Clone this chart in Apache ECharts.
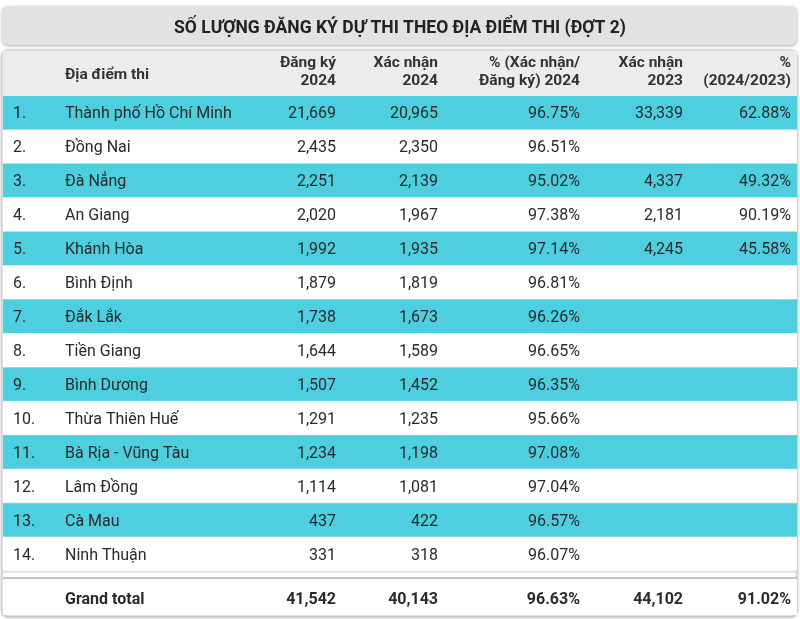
<!DOCTYPE html>
<html>
<head>
<meta charset="utf-8">
<script src="https://cdn.jsdelivr.net/npm/echarts@6/dist/echarts.min.js"></script>
<style>html,body{margin:0;padding:0;background:#fff;}#c{width:800px;height:619px;}</style>
</head>
<body>
<div id="c"></div>
<script>
const titleText = 'SỐ LƯỢNG ĐĂNG KÝ DỰ THI THEO ĐỊA ĐIỂM THI (ĐỢT 2)';
const headers = ['', 'Địa điểm thi', 'Đăng ký\n2024', 'Xác nhận\n2024', '% (Xác nhận/\nĐăng ký) 2024', 'Xác nhận\n2023', '%\n(2024/2023)'];
const places = ['Thành phố Hồ Chí Minh', 'Đồng Nai', 'Đà Nẳng', 'An Giang', 'Khánh Hòa', 'Bình Định', 'Đắk Lắk', 'Tiền Giang', 'Bình Dương', 'Thừa Thiên Huế', 'Bà Rịa - Vũng Tàu', 'Lâm Đồng', 'Cà Mau', 'Ninh Thuận'];
const dangKy2024 = [21669, 2435, 2251, 2020, 1992, 1879, 1738, 1644, 1507, 1291, 1234, 1114, 437, 331];
const xacNhan2024 = [20965, 2350, 2139, 1967, 1935, 1819, 1673, 1589, 1452, 1235, 1198, 1081, 422, 318];
const pctXacNhan2024 = [96.75, 96.51, 95.02, 97.38, 97.14, 96.81, 96.26, 96.65, 96.35, 95.66, 97.08, 97.04, 96.57, 96.07];
const xacNhan2023 = [33339, null, 4337, 2181, 4245, null, null, null, null, null, null, null, null, null];
const pct2024vs2023 = [62.88, null, 49.32, 90.19, 45.58, null, null, null, null, null, null, null, null, null];
const totalLabel = 'Grand total';
const totals = [41542, 40143, 96.63, 44102, 91.02];

const fmtN = v => v == null ? '' : v.toLocaleString('en-US');
const fmtP = v => v == null ? '' : v.toFixed(2) + '%';

const bodyRows = places.map((p, i) => [i, (i + 1) + '.', p, fmtN(dangKy2024[i]), fmtN(xacNhan2024[i]), fmtP(pctXacNhan2024[i]), fmtN(xacNhan2023[i]), fmtP(pct2024vs2023[i])]);
const totalRows = [[0, '', totalLabel, fmtN(totals[0]), fmtN(totals[1]), fmtP(totals[2]), fmtN(totals[3]), fmtP(totals[4])]];
const headerRows = [[0].concat(headers)];

const FONT = 'Roboto, "Noto Sans", sans-serif';
const colX = [13, 65, 336, 438, 580, 683, 791];
const colAlign = ['left', 'left', 'right', 'right', 'right', 'right', 'right'];
const CYAN = '#4ecfe0';

function makeRender(kind) {
  return function (params, api) {
    const i = api.value(1);
    const c = api.coord([0, i]);
    const h = api.size([0, 1])[1];
    const top = c[1] - h / 2;
    const x0 = api.coord([3, i])[0];
    const x1 = api.coord([797, i])[0];
    const children = [];
    let fill = '#ffffff';
    if (kind === 'body' && i % 2 === 0) fill = CYAN;
    if (kind === 'header') fill = '#ececec';
    children.push({ type: 'rect', shape: { x: x0, y: top, width: x1 - x0, height: h }, style: { fill: fill } });
    if (kind === 'body') {
      children.push({ type: 'line', shape: { x1: x0, y1: top + h, x2: x1, y2: top + h }, style: { stroke: '#dfe6e8', lineWidth: 1 } });
    }
    const row = params.dataIndex;
    const src = kind === 'header' ? headerRows : (kind === 'total' ? totalRows : bodyRows);
    const vals = src[row];
    for (let k = 0; k < 7; k++) {
      const t = vals[k + 1];
      if (!t) continue;
      const x = api.coord([colX[k], i])[0];
      if (kind === 'header') {
        const lines = t.split('\n');
        children.push({ type: 'text', style: { text: t, x: x, y: lines.length > 1 ? c[1] - 1 : c[1] + 2, align: colAlign[k], verticalAlign: 'middle', font: 'bold 15.5px ' + FONT, fill: '#333', lineHeight: 18 } });
      } else {
        children.push({ type: 'text', style: { text: t, x: x, y: c[1] + (kind === 'total' ? 2.5 : 1.5), align: colAlign[k], verticalAlign: 'middle', font: (kind === 'total' ? 'bold ' : '') + '16px ' + FONT, fill: '#2a2a2a' } });
      }
    }
    return { type: 'group', children: children };
  };
}

const chart = echarts.init(document.getElementById('c'), null, { renderer: 'canvas' });
const xAx = (g) => ({ type: 'value', gridIndex: g, min: 0, max: 800, show: false });
const yAx = (g, n) => ({ type: 'category', gridIndex: g, data: Array.from({ length: n }, (_, k) => 'r' + k), inverse: true, show: false });

chart.setOption({
  animation: false,
  backgroundColor: '#ffffff',
  title: {
    text: titleText, left: 'center', top: 15,
    textStyle: { fontFamily: FONT, fontWeight: 'bold', fontSize: 17.5, color: '#222' }
  },
  graphic: [
    { type: 'rect', z: -10, shape: { x: 2, y: 6, width: 795, height: 39, r: 6 }, style: { fill: '#e2e2e2', shadowBlur: 3, shadowOffsetY: 1, shadowColor: 'rgba(0,0,0,0.35)' } },
    { type: 'rect', z: -10, shape: { x: 2, y: 50, width: 795, height: 566, r: 6 }, style: { fill: '#fff', stroke: '#cfcfcf', lineWidth: 1, shadowBlur: 3, shadowOffsetY: 1, shadowColor: 'rgba(0,0,0,0.3)' } },
    { type: 'line', z: 10, shape: { x1: 3, y1: 572, x2: 797, y2: 572 }, style: { stroke: '#d4d4d4', lineWidth: 1 } },
    { type: 'line', z: 10, shape: { x1: 3, y1: 578, x2: 797, y2: 578 }, style: { stroke: '#c4c4c4', lineWidth: 2 } }
  ],
  grid: [
    { left: 0, right: 0, top: 51, height: 45 },
    { left: 0, right: 0, top: 96, height: 475 },
    { left: 0, right: 0, top: 579, height: 36 }
  ],
  xAxis: [xAx(0), xAx(1), xAx(2)],
  yAxis: [yAx(0, 1), yAx(1, 14), yAx(2, 1)],
  series: [
    { type: 'custom', xAxisIndex: 0, yAxisIndex: 0, renderItem: makeRender('header'), data: headerRows.map(r => [0, r[0]]), encode: { x: 0, y: 1 }, clip: false },
    { type: 'custom', xAxisIndex: 1, yAxisIndex: 1, renderItem: makeRender('body'), data: bodyRows.map(r => [0, r[0]]), encode: { x: 0, y: 1 }, clip: false },
    { type: 'custom', xAxisIndex: 2, yAxisIndex: 2, renderItem: makeRender('total'), data: totalRows.map(r => [0, r[0]]), encode: { x: 0, y: 1 }, clip: false }
  ]
});
</script>
</body>
</html>
